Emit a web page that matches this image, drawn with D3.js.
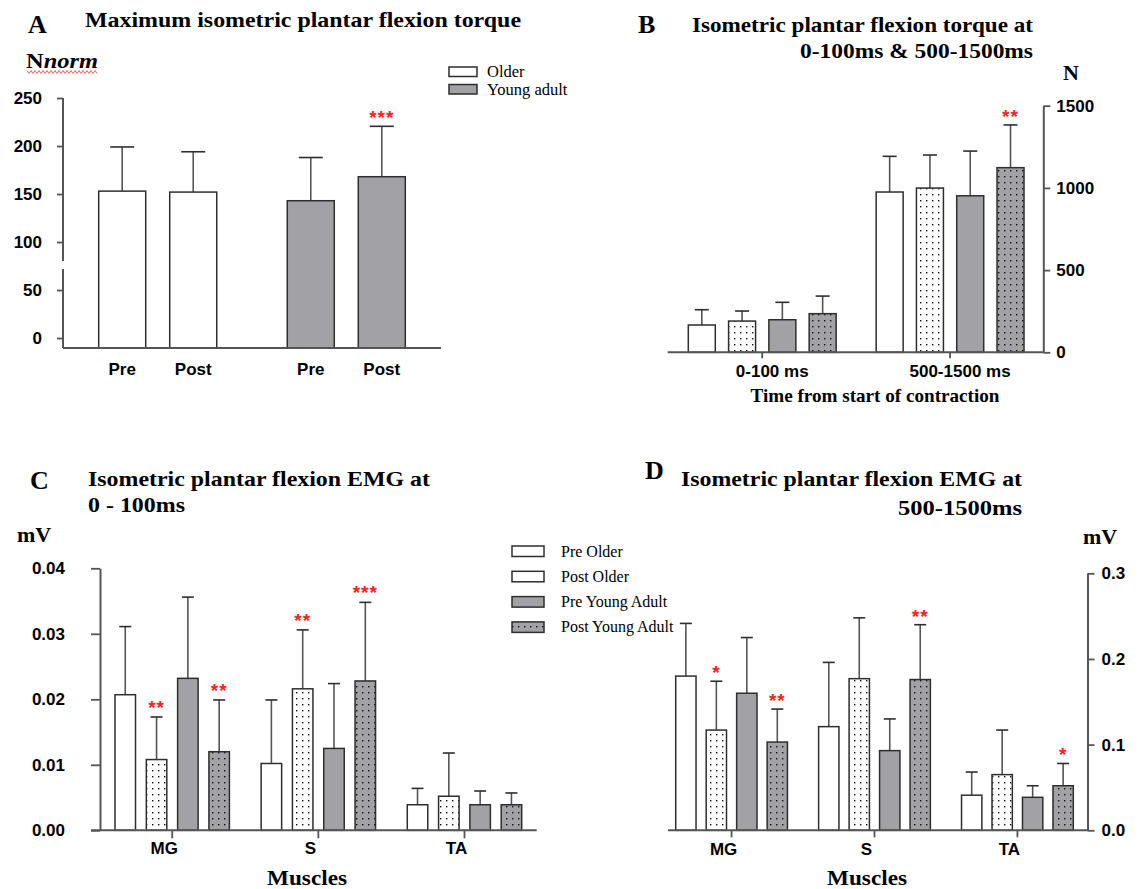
<!DOCTYPE html>
<html>
<head>
<meta charset="utf-8">
<script src="https://cdn.jsdelivr.net/npm/d3@7"></script>
<style>
  body { margin: 0; background: #fff; }
  svg { display: block; }
  .tick text { font-family: "Liberation Sans", Arial, sans-serif; font-weight: bold; font-size: 17px; fill: #000; }
</style>
</head>
<body>
<svg id="fig" width="1139" height="889"></svg>
<script>
// ---------- data ----------
// Panel A: maximum isometric plantar flexion torque (N norm), mean and SD
const groupsA = ["Older", "Young adult"];
const timepoints = ["Pre", "Post"];
const maxTorqueOlder = [153, 152];
const maxTorqueOlderSD = [46, 42];
const maxTorqueYoung = [143, 168];
const maxTorqueYoungSD = [45, 52.5];
const maxTorqueOlderStars = ["", ""];
const maxTorqueYoungStars = ["", "***"];
const ticksA = [0, 50, 100, 150, 200, 250];

// Series shared by panels B, C, D
const seriesNames = ["Pre Older", "Post Older", "Pre Young Adult", "Post Young Adult"];

// Panel B: torque (N) in two time windows
const torqueWindows = ["0-100 ms", "500-1500 ms"];
const torqueEarly = [166, 190, 198, 235];
const torqueEarlySD = [93, 61, 106, 107];
const torqueLate = [975, 999, 952, 1123];
const torqueLateSD = [217, 201, 272, 260];
const torqueEarlyStars = ["", "", "", ""];
const torqueLateStars = ["", "", "", "**"];
const ticksB = [0, 500, 1000, 1500];

// Panel C: EMG (mV) at 0-100 ms
const muscles = ["MG", "S", "TA"];
const emgEarlyMG = [0.0207, 0.0108, 0.0232, 0.0120];
const emgEarlyMGSD = [0.0104, 0.0065, 0.0124, 0.0079];
const emgEarlyS = [0.0102, 0.0216, 0.0125, 0.0228];
const emgEarlySSD = [0.0097, 0.0090, 0.0099, 0.0120];
const emgEarlyTA = [0.0039, 0.0052, 0.0039, 0.0039];
const emgEarlyTASD = [0.0025, 0.0066, 0.0021, 0.0018];
const emgEarlyMGStars = ["", "**", "", "**"];
const emgEarlySStars = ["", "**", "", "***"];
const emgEarlyTAStars = ["", "", "", ""];
const ticksC = [0, 0.01, 0.02, 0.03, 0.04];

// Panel D: EMG (mV) at 500-1500 ms
const emgLateMG = [0.180, 0.117, 0.160, 0.103];
const emgLateMGSD = [0.0615, 0.057, 0.065, 0.0385];
const emgLateS = [0.121, 0.177, 0.093, 0.176];
const emgLateSSD = [0.075, 0.071, 0.037, 0.064];
const emgLateTA = [0.041, 0.065, 0.0385, 0.052];
const emgLateTASD = [0.027, 0.052, 0.0135, 0.026];
const emgLateMGStars = ["", "*", "", "**"];
const emgLateSStars = ["", "", "", "**"];
const emgLateTAStars = ["", "", "", "*"];
const ticksD = [0, 0.1, 0.2, 0.3];

// ---------- style ----------
const GRAY = "#a2a2a6";
const INK = "#2e2e2e";
const AXIS = "#555";
const ERR = "#555";
const STAR = "#ff2020";
const SERIF = "'Liberation Serif', 'Times New Roman', serif";
const SANS = "'Liberation Sans', Arial, sans-serif";

const svg = d3.select("#fig");
const defs = svg.append("defs");

function dotPattern(id, bg) {
  const p = defs.append("pattern").attr("id", id)
    .attr("width", 6).attr("height", 6).attr("patternUnits", "userSpaceOnUse");
  p.append("rect").attr("width", 6).attr("height", 6).attr("fill", bg);
  p.append("rect").attr("x", 2).attr("y", 2).attr("width", 1.4).attr("height", 1.4).attr("fill", "#111");
}
dotPattern("dotsWhite", "#fff");
dotPattern("dotsGray", GRAY);

const seriesFill = ["#fff", "url(#dotsWhite)", GRAY, "url(#dotsGray)"];

function text(g, x, y, str, o = {}) {
  const t = g.append("text").attr("x", x).attr("y", y).text(str)
    .attr("font-family", o.family || SERIF)
    .attr("font-size", o.size || 22)
    .attr("font-weight", o.weight || "bold")
    .attr("font-style", o.style || "normal")
    .attr("text-anchor", o.anchor || "start")
    .attr("fill", o.fill || "#000");
  if (o.len) t.attr("textLength", o.len).attr("lengthAdjust", "spacingAndGlyphs");
  return t;
}

// Draws grouped bars with SD whiskers and significance stars
function bars(g, o) {
  const x0 = d3.scaleBand().domain(o.groups).range(o.xRange).paddingInner(o.groupPad).paddingOuter(0);
  const x1 = d3.scaleBand().domain(o.series).range([0, x0.bandwidth()]).paddingInner(o.seriesPad).paddingOuter(0);
  const centers = [];
  o.groups.forEach((grp, gi) => {
    o.series.forEach((s, si) => {
      const m = o.means[gi][si], sd = o.sds[gi][si];
      const bx = x0(grp) + x1(s), bw = x1.bandwidth(), cx = bx + bw / 2;
      const yTop = o.y(m + sd);
      centers.push({ grp, s, cx });
      g.append("line").attr("x1", cx).attr("x2", cx).attr("y1", o.y(m)).attr("y2", yTop)
        .attr("stroke", ERR).attr("stroke-width", 1.6);
      g.append("line").attr("x1", cx - o.cap).attr("x2", cx + o.cap).attr("y1", yTop).attr("y2", yTop)
        .attr("stroke", INK).attr("stroke-width", 1.6);
      g.append("rect").attr("x", bx).attr("y", o.y(m)).attr("width", bw).attr("height", o.base - o.y(m))
        .attr("fill", o.fill(gi, si)).attr("stroke", INK).attr("stroke-width", 1.5);
      const st = o.stars[gi][si];
      if (st) {
        text(g, cx, yTop - o.starGap, st, { family: SANS, size: 19, fill: STAR, anchor: "middle" })
          .attr("letter-spacing", 1);
      }
    });
  });
  return { x0, centers };
}

function styleAxis(sel) {
  sel.selectAll(".tick line").attr("stroke", AXIS).attr("stroke-width", 1.8);
  sel.select(".domain").attr("stroke", AXIS).attr("stroke-width", 2);
}

// ================= Panel A =================
{
  const g = svg.append("g");
  const y = d3.scaleLinear().domain([0, 250]).range([338, 98]);
  const base = 348;
  text(g, 28, 33, "A", { size: 26 });
  text(g, 85, 27, "Maximum isometric plantar flexion torque", { size: 22, len: 436 });
  const nn = text(g, 26, 68, "N", { size: 22 });
  nn.append("tspan").attr("font-style", "italic").text("norm");
  nn.attr("textLength", 72).attr("lengthAdjust", "spacingAndGlyphs");
  // red wavy underline under the unit
  const wave = d3.range(27, 99, 2).map((x, i) => [x, 72 + (i % 2 ? 1.5 : -1.5)]);
  g.append("path").attr("d", d3.line()(wave)).attr("fill", "none").attr("stroke", "#e33").attr("stroke-width", 0.8);

  const ax = g.append("g").attr("transform", "translate(63,0)")
    .call(d3.axisLeft(y).tickValues(ticksA).tickSize(6).tickPadding(15).tickFormat(d3.format("d")));
  ax.select(".domain").remove();
  styleAxis(ax);
  // broken y axis
  g.append("line").attr("x1", 63).attr("x2", 63).attr("y1", y(250)).attr("y2", 261).attr("stroke", AXIS).attr("stroke-width", 2);
  g.append("line").attr("x1", 63).attr("x2", 63).attr("y1", 269).attr("y2", base).attr("stroke", AXIS).attr("stroke-width", 2);

  const r = bars(g, {
    groups: groupsA, series: timepoints,
    means: [maxTorqueOlder, maxTorqueYoung], sds: [maxTorqueOlderSD, maxTorqueYoungSD],
    stars: [maxTorqueOlderStars, maxTorqueYoungStars],
    xRange: [98.7, 405.3], groupPad: 0.374, seriesPad: 0.338,
    y, base, cap: 12, starGap: 2, fill: (gi) => (gi === 0 ? "#fff" : GRAY)
  });
  g.append("line").attr("x1", 63).attr("x2", 441).attr("y1", base).attr("y2", base).attr("stroke", AXIS).attr("stroke-width", 2);
  r.centers.forEach(c => text(g, c.cx, 375, c.s, { family: SANS, size: 17, anchor: "middle" }));

  // legend
  groupsA.forEach((name, i) => {
    const ly = 67 + i * 17.5;
    g.append("rect").attr("x", 449).attr("y", ly).attr("width", 28).attr("height", 9.5)
      .attr("fill", i === 0 ? "#fff" : GRAY).attr("stroke", INK).attr("stroke-width", 1.5);
    text(g, 487, ly + 10, name, { size: 16.5, weight: "normal" });
  });
}

// ================= Panel B =================
{
  const g = svg.append("g");
  const y = d3.scaleLinear().domain([0, 1500]).range([352.3, 105.7]);
  const base = y(0);
  text(g, 638, 33, "B", { size: 26 });
  text(g, 1033, 32, "Isometric plantar flexion torque at", { size: 22, anchor: "end", len: 341 });
  text(g, 1033, 58, "0-100ms & 500-1500ms", { size: 22, anchor: "end", len: 233 });
  text(g, 1063, 80, "N", { size: 22 });

  const ax = g.append("g").attr("transform", "translate(1043.3,0)")
    .call(d3.axisRight(y).tickValues(ticksB).tickSize(7).tickSizeOuter(0).tickPadding(6).tickFormat(d3.format("d")));
  styleAxis(ax);

  const r = bars(g, {
    groups: torqueWindows, series: seriesNames,
    means: [torqueEarly, torqueLate], sds: [torqueEarlySD, torqueLateSD],
    stars: [torqueEarlyStars, torqueLateStars],
    xRange: [688.3, 1024], groupPad: 0.213, seriesPad: 0.33,
    y, base, cap: 7, starGap: 2, fill: (gi, si) => seriesFill[si]
  });
  const xa = g.append("g").attr("transform", `translate(0,${base})`)
    .call(d3.axisBottom(r.x0).tickSize(6).tickSizeOuter(0).tickFormat(""));
  xa.select(".domain").attr("d", `M667.7,0H1043.3`);
  styleAxis(xa);
  torqueWindows.forEach(w => text(g, r.x0(w) + r.x0.bandwidth() / 2 + 10, 377, w, { family: SANS, size: 17, anchor: "middle" }));
  text(g, 875, 402, "Time from start of contraction", { size: 19, anchor: "middle", len: 249 });
}

// ================= Panel C =================
{
  const g = svg.append("g");
  const y = d3.scaleLinear().domain([0, 0.04]).range([830.3, 568.3]);
  const base = y(0);
  text(g, 30, 489, "C", { size: 26 });
  text(g, 88, 486, "Isometric plantar flexion EMG at", { size: 22, len: 342 });
  text(g, 88, 512, "0 - 100ms", { size: 22, len: 97 });
  text(g, 17, 542, "mV", { size: 22 });

  const ax = g.append("g").attr("transform", "translate(100,0)")
    .call(d3.axisLeft(y).tickValues(ticksC).tickSize(9).tickSizeOuter(0).tickPadding(26).tickFormat(d3.format(".2f")));
  styleAxis(ax);

  const r = bars(g, {
    groups: muscles, series: seriesNames,
    means: [emgEarlyMG, emgEarlyS, emgEarlyTA], sds: [emgEarlyMGSD, emgEarlySSD, emgEarlyTASD],
    stars: [emgEarlyMGStars, emgEarlySStars, emgEarlyTAStars],
    xRange: [115, 521.7], groupPad: 0.217, seriesPad: 0.345,
    y, base, cap: 6, starGap: 3, fill: (gi, si) => seriesFill[si]
  });
  const xa = g.append("g").attr("transform", `translate(0,${base})`)
    .call(d3.axisBottom(r.x0).tickSize(8).tickSizeOuter(0).tickFormat(""));
  xa.select(".domain").attr("d", `M91,0H536.7`);
  styleAxis(xa);
  muscles.forEach(m => text(g, r.x0(m) + r.x0.bandwidth() / 2 - 8, 854, m, { family: SANS, size: 17, anchor: "middle" }));
  text(g, 307, 885, "Muscles", { size: 22, anchor: "middle", len: 80 });

  // legend
  seriesNames.forEach((name, i) => {
    const ly = 546 + i * 25.3;
    g.append("rect").attr("x", 512).attr("y", ly).attr("width", 32).attr("height", 10.5)
      .attr("fill", i === 1 ? "#fff" : seriesFill[i]).attr("stroke", INK).attr("stroke-width", 1.5);
    text(g, 561, ly + 10.5, name, { size: 16, weight: "normal" });
  });
}

// ================= Panel D =================
{
  const g = svg.append("g");
  const y = d3.scaleLinear().domain([0, 0.3]).range([830.3, 573.3]);
  const base = y(0);
  text(g, 645, 479, "D", { size: 26 });
  text(g, 1022, 486, "Isometric plantar flexion EMG at", { size: 22, anchor: "end", len: 341 });
  text(g, 1022, 515, "500-1500ms", { size: 22, anchor: "end", len: 124 });
  text(g, 1083, 544, "mV", { size: 22 });

  const ax = g.append("g").attr("transform", "translate(1087.5,0)")
    .call(d3.axisRight(y).tickValues(ticksD).tickSize(7).tickSizeOuter(0).tickPadding(7).tickFormat(d3.format(".1f")));
  styleAxis(ax);

  const r = bars(g, {
    groups: muscles, series: seriesNames,
    means: [emgLateMG, emgLateS, emgLateTA], sds: [emgLateMGSD, emgLateSSD, emgLateTASD],
    stars: [emgLateMGStars, emgLateSStars, emgLateTAStars],
    xRange: [675.7, 1073.3], groupPad: 0.218, seriesPad: 0.333,
    y, base, cap: 6, starGap: 2, fill: (gi, si) => seriesFill[si]
  });
  const xa = g.append("g").attr("transform", `translate(0,${base})`)
    .call(d3.axisBottom(r.x0).tickSize(7).tickSizeOuter(0).tickFormat(""));
  xa.select(".domain").attr("d", `M668,0H1087.5`);
  styleAxis(xa);
  muscles.forEach(m => text(g, r.x0(m) + r.x0.bandwidth() / 2 - 8, 855, m, { family: SANS, size: 17, anchor: "middle" }));
  text(g, 867, 885, "Muscles", { size: 22, anchor: "middle", len: 80 });
}
</script>
</body>
</html>
